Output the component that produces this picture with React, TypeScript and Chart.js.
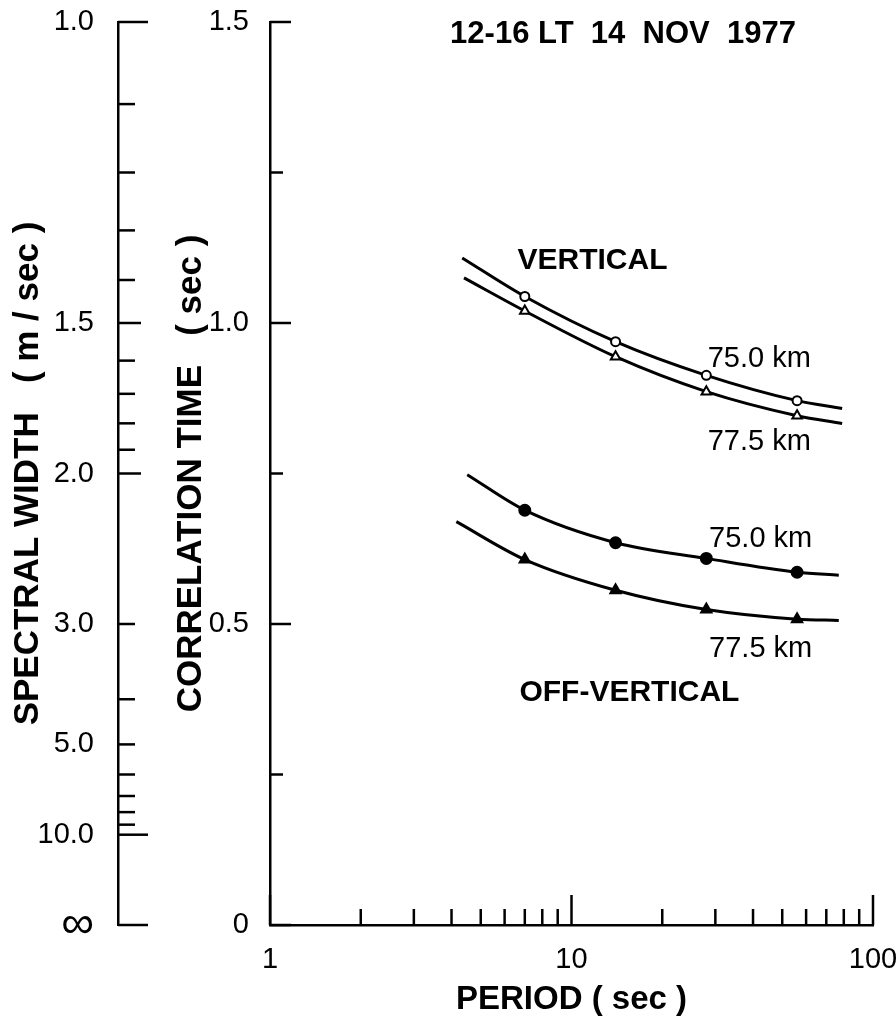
import React, { useEffect, useRef } from 'react';
import { Chart, registerables } from 'chart.js';

Chart.register(...registerables);

// ---- axis ticks ----
const PERIOD_TICKS = [1, 10, 100];
const PERIOD_TICK_LABELS = ['1', '10', '100'];
const PERIOD_MINOR = [2, 3, 4, 5, 6, 7, 8, 9, 20, 30, 40, 50, 60, 70, 80, 90];

const TAU_TICKS = [0, 0.5, 1.0, 1.5];
const TAU_TICK_LABELS = ['0', '0.5', '1.0', '1.5'];
const TAU_MINOR = [0.25, 0.75, 1.25];

// spectral width (m/sec) = SW_TAU_PRODUCT / correlation time (sec)
const SW_TAU_PRODUCT = 1.5;
const SW_TICKS = [1.0, 1.5, 2.0, 3.0, 5.0, 10.0, Infinity];
const SW_TICK_LABELS = ['1.0', '1.5', '2.0', '3.0', '5.0', '10.0', '\u221E'];
const SW_MINOR = [1.1, 1.2, 1.3, 1.4, 1.6, 1.7, 1.8, 1.9, 4, 6, 7, 8, 9];

// ---- data: period (sec) vs correlation time (sec) ----
const MARKER_PERIODS = [7, 14, 28, 56];

const V75_PERIOD = [4.34, 7, 14, 28, 56, 79];
const V75_TAU = [1.108, 1.044, 0.969, 0.913, 0.871, 0.858];

const V775_PERIOD = [4.4, 7, 14, 28, 56, 79];
const V775_TAU = [1.075, 1.02, 0.944, 0.886, 0.846, 0.833];

const OV75_PERIOD = [4.51, 7, 14, 28, 56, 77];
const OV75_TAU = [0.748, 0.689, 0.635, 0.609, 0.586, 0.581];

const OV775_PERIOD = [4.15, 7, 14, 28, 56, 77];
const OV775_TAU = [0.67, 0.607, 0.556, 0.524, 0.508, 0.506];

// ---- annotations (anchored in data coordinates, left edge / cap centre) ----
const NOTE_TEXTS = ['VERTICAL', '75.0 km', '77.5 km', '75.0 km', '77.5 km', 'OFF-VERTICAL'];
const NOTE_PERIOD = [6.62, 28.3, 28.3, 28.6, 28.6, 6.72];
const NOTE_TAU = [1.108, 0.944, 0.806, 0.645, 0.463, 0.39];

const TITLE = '12-16 LT  14  NOV  1977';
const X_TITLE = 'PERIOD ( sec )';
const Y_TITLE = 'CORRELATION TIME   ( sec )';
const SW_TITLE = 'SPECTRAL WIDTH   ( m / sec )';

const FONT = '"Liberation Sans", Arial, sans-serif';

const W = 896;
const H = 1016;

const innerTicksPlugin = {
  id: 'innerTicks',
  beforeDraw(chart: any) {
    const { ctx } = chart;
    ctx.save();
    ctx.fillStyle = '#fff';
    ctx.fillRect(0, 0, chart.width, chart.height);
    ctx.restore();
  },
  afterDraw(chart: any) {
    const { ctx } = chart;
    const x = chart.scales.x;
    const y = chart.scales.y;
    const sw = chart.scales.sw;
    const seg = (x1: number, y1: number, x2: number, y2: number) => {
      ctx.beginPath();
      ctx.moveTo(x1, y1);
      ctx.lineTo(x2, y2);
      ctx.stroke();
    };
    ctx.save();
    ctx.strokeStyle = '#000';
    ctx.lineWidth = 2.5;
    ctx.lineCap = 'butt';

    // period axis: ticks point up
    const yBase = y.getPixelForValue(0);
    PERIOD_MINOR.forEach((p) => {
      const px = x.getPixelForValue(p);
      seg(px, yBase, px, yBase - 16);
    });
    PERIOD_TICKS.forEach((p) => {
      const px = x.getPixelForValue(p);
      seg(px, yBase, px, yBase - 30);
    });

    // correlation time axis: ticks point right
    const xY = y.right;
    TAU_TICKS.forEach((t) => {
      const py = y.getPixelForValue(t);
      seg(xY, py, xY + 21, py);
    });
    TAU_MINOR.forEach((t) => {
      const py = y.getPixelForValue(t);
      seg(xY, py, xY + 13, py);
    });

    // spectral width axis: ticks point right
    const xS = sw.right;
    SW_TICKS.forEach((s, i) => {
      const py = sw.getPixelForValue(s === Infinity ? 0 : SW_TAU_PRODUCT / s);
      const len = i === 0 || i >= SW_TICKS.length - 2 ? 30 : i <= 2 ? 23 : 17;
      seg(xS, py, xS + len, py);
    });
    SW_MINOR.forEach((s) => {
      const py = sw.getPixelForValue(SW_TAU_PRODUCT / s);
      seg(xS, py, xS + 17, py);
    });

    // annotations
    ctx.fillStyle = '#000';
    ctx.textBaseline = 'alphabetic';
    ctx.textAlign = 'left';
    NOTE_TEXTS.forEach((t, i) => {
      const bold = t === 'VERTICAL' || t === 'OFF-VERTICAL';
      const size = bold ? 30 : 29;
      ctx.font = `${bold ? 'bold ' : ''}${size}px ${FONT}`;
      ctx.fillText(t, x.getPixelForValue(NOTE_PERIOD[i]), y.getPixelForValue(NOTE_TAU[i]) + 0.36 * size);
    });

    // title
    ctx.font = `bold 31px ${FONT}`;
    ctx.textAlign = 'center';
    ctx.fillText(TITLE, 623, 32 + 0.36 * 31);
    ctx.restore();
  },
};

export default function App() {
  const ref = useRef<HTMLCanvasElement | null>(null);

  useEffect(() => {
    if (!ref.current) return;
    const series = [
      { periods: V75_PERIOD, taus: V75_TAU, style: 'circle', filled: false, r: 4.5 },
      { periods: V775_PERIOD, taus: V775_TAU, style: 'triangle', filled: false, r: 5.5 },
      { periods: OV75_PERIOD, taus: OV75_TAU, style: 'circle', filled: true, r: 5.5 },
      { periods: OV775_PERIOD, taus: OV775_TAU, style: 'triangle', filled: true, r: 6 },
    ];
    const tickFont = { family: FONT, size: 29 };
    const titleFont = { family: FONT, size: 35, weight: 'bold' as const };

    const chart = new Chart(ref.current, {
      type: 'line',
      data: {
        datasets: series.map((s) => ({
          data: s.periods.map((p, i) => ({ x: p, y: s.taus[i] })),
          borderColor: '#000',
          borderWidth: 3,
          fill: false,
          cubicInterpolationMode: 'monotone' as const,
          pointStyle: s.style as any,
          pointRadius: (c: any) => (c.raw && MARKER_PERIODS.includes(c.raw.x) ? s.r : 0),
          pointBackgroundColor: s.filled ? '#000' : '#fff',
          pointBorderColor: '#000',
          pointBorderWidth: 2,
          xAxisID: 'x',
          yAxisID: 'y',
        })),
      },
      options: {
        responsive: false,
        animation: false,
        events: [],
        layout: { padding: { left: 0, top: 22, right: 23, bottom: 0 } },
        plugins: { legend: { display: false }, tooltip: { enabled: false }, title: { display: false } },
        scales: {
          x: {
            type: 'logarithmic',
            position: 'bottom',
            min: 1,
            max: 100,
            afterFit: (s: any) => {
              s.height = 91;
              s.paddingLeft = 0;
              s.paddingRight = 0;
            },
            afterBuildTicks: (s: any) => {
              s.ticks = PERIOD_TICKS.map((v) => ({ value: v }));
            },
            grid: { display: false },
            border: { display: true, color: '#000', width: 2.5 },
            ticks: {
              autoSkip: false,
              maxRotation: 0,
              padding: 10,
              color: '#000',
              font: tickFont,
              callback: (_v: any, i: number) => PERIOD_TICK_LABELS[i],
            },
            title: {
              display: true,
              text: X_TITLE,
              color: '#000',
              font: { family: FONT, size: 33, weight: 'bold' as const, lineHeight: 1.0 },
              padding: { top: 0, bottom: 0 },
            },
          },
          y: {
            type: 'linear',
            position: 'left',
            weight: 0,
            min: 0,
            max: 1.5,
            afterFit: (s: any) => {
              s.width = 152;
              s.paddingTop = 0;
              s.paddingBottom = 0;
            },
            afterBuildTicks: (s: any) => {
              s.ticks = TAU_TICKS.map((v) => ({ value: v }));
            },
            grid: { display: false },
            border: { display: true, color: '#000', width: 2.5 },
            ticks: {
              autoSkip: false,
              padding: 13,
              color: '#000',
              font: tickFont,
              callback: (_v: any, i: number) => TAU_TICK_LABELS[i],
            },
            title: {
              display: true,
              text: Y_TITLE,
              color: '#000',
              font: titleFont,
              padding: { top: 52, bottom: 0 },
            },
          },
          sw: {
            type: 'linear',
            position: 'left',
            weight: 10,
            min: 0,
            max: 1.5,
            afterFit: (s: any) => {
              s.width = 118;
              s.paddingTop = 0;
              s.paddingBottom = 0;
            },
            afterBuildTicks: (s: any) => {
              s.ticks = SW_TICKS.map((v) => ({ value: v === Infinity ? 0 : SW_TAU_PRODUCT / v }));
            },
            grid: { display: false },
            border: { display: true, color: '#000', width: 2.5 },
            ticks: {
              autoSkip: false,
              padding: 16,
              color: '#000',
              font: (c: any) => (c.index === SW_TICKS.length - 1 ? { family: FONT, size: 46 } : tickFont),
              callback: (_v: any, i: number) => SW_TICK_LABELS[i],
            },
            title: {
              display: true,
              text: SW_TITLE,
              color: '#000',
              font: titleFont,
              padding: { top: 7, bottom: 0 },
            },
          },
        },
      } as any,
      plugins: [innerTicksPlugin],
    });
    return () => chart.destroy();
  }, []);

  return (
    <div style={{ position: 'absolute', left: 0, top: 0, width: W, height: H, background: '#fff' }}>
      <canvas ref={ref} width={W} height={H} style={{ width: W, height: H, display: 'block' }} />
    </div>
  );
}
